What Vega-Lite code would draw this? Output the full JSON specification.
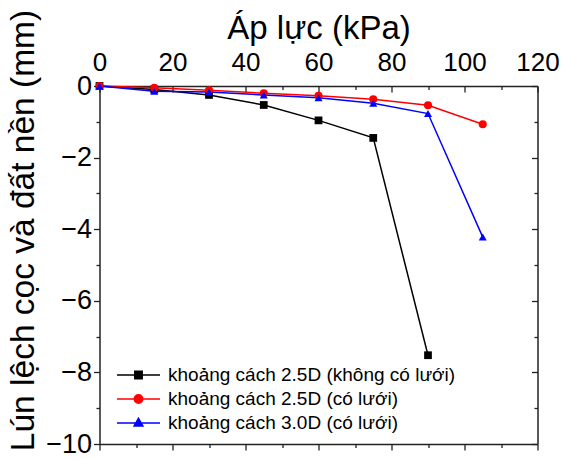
{
  "$schema": "https://vega.github.io/schema/vega-lite/v6.json",
  "width": 438,
  "height": 358,
  "autosize": {"type": "none"},
  "padding": {"left": 99.5, "top": 86, "right": 26.5, "bottom": 15},
  "background": "white",
  "config": {
    "font": "Liberation Sans",
    "view": {"stroke": null},
    "axis": {"grid": false, "domainColor": "#222", "domainWidth": 1.5, "tickColor": "#222", "tickWidth": 1.3, "labelColor": "#000", "titleColor": "#000", "labelFont": "Liberation Sans", "titleFont": "Liberation Sans", "titleFontWeight": "normal", "labelFlush": false, "labelOverlap": false}
  },
  "datasets": {
    "d": [
      {"series": "khoảng cách 2.5D (không có lưới)", "x": 0, "y": 0},
      {"series": "khoảng cách 2.5D (không có lưới)", "x": 15, "y": -0.1},
      {"series": "khoảng cách 2.5D (không có lưới)", "x": 30, "y": -0.25},
      {"series": "khoảng cách 2.5D (không có lưới)", "x": 45, "y": -0.53},
      {"series": "khoảng cách 2.5D (không có lưới)", "x": 60, "y": -0.96},
      {"series": "khoảng cách 2.5D (không có lưới)", "x": 75, "y": -1.45},
      {"series": "khoảng cách 2.5D (không có lưới)", "x": 90, "y": -7.52},
      {"series": "khoảng cách 2.5D (có lưới)", "x": 0, "y": 0},
      {"series": "khoảng cách 2.5D (có lưới)", "x": 15, "y": -0.05},
      {"series": "khoảng cách 2.5D (có lưới)", "x": 30, "y": -0.12},
      {"series": "khoảng cách 2.5D (có lưới)", "x": 45, "y": -0.2},
      {"series": "khoảng cách 2.5D (có lưới)", "x": 60, "y": -0.27},
      {"series": "khoảng cách 2.5D (có lưới)", "x": 75, "y": -0.37},
      {"series": "khoảng cách 2.5D (có lưới)", "x": 90, "y": -0.54},
      {"series": "khoảng cách 2.5D (có lưới)", "x": 105, "y": -1.07},
      {"series": "khoảng cách 3.0D (có lưới)", "x": 0, "y": 0},
      {"series": "khoảng cách 3.0D (có lưới)", "x": 15, "y": -0.15},
      {"series": "khoảng cách 3.0D (có lưới)", "x": 30, "y": -0.17},
      {"series": "khoảng cách 3.0D (có lưới)", "x": 45, "y": -0.25},
      {"series": "khoảng cách 3.0D (có lưới)", "x": 60, "y": -0.33},
      {"series": "khoảng cách 3.0D (có lưới)", "x": 75, "y": -0.48},
      {"series": "khoảng cách 3.0D (có lưới)", "x": 90, "y": -0.77},
      {"series": "khoảng cách 3.0D (có lưới)", "x": 105, "y": -4.22}
    ]
  },
  "data": {"name": "d"},
  "resolve": {"axis": {"x": "independent", "y": "independent"}},
  "layer": [
    {
      "mark": {"type": "line", "strokeWidth": 1.5},
      "encoding": {
        "x": {"field": "x", "type": "quantitative", "scale": {"domain": [0, 120], "nice": false},
          "axis": {"orient": "top", "values": [0, 20, 40, 60, 80, 100, 120], "ticks": false, "labelFontSize": 26, "labelPadding": 11, "title": "Áp lực (kPa)", "titleFontSize": 33, "titlePadding": 4}},
        "y": {"field": "y", "type": "quantitative", "scale": {"domain": [-10, 0], "nice": false},
          "axis": {"orient": "left", "values": [0, -2, -4, -6, -8, -10], "ticks": false, "labelFontSize": 27, "labelPadding": 8, "labelExpr": "replace(datum.label, '-', '−')", "title": "Lún lệch cọc và đất nền (mm)", "titleFontSize": 33.5, "titlePadding": 5, "titleY": 144}},
        "color": {"field": "series", "type": "nominal", "scale": {"domain": ["khoảng cách 2.5D (không có lưới)", "khoảng cách 2.5D (có lưới)", "khoảng cách 3.0D (có lưới)"], "range": ["#000000", "#ff0000", "#0000ff"]},
          "legend": {"title": null, "orient": "none", "legendX": 28, "legendY": 278, "labelFontSize": 19, "labelLimit": 500, "labelColor": "#000", "symbolSize": 400, "symbolStrokeWidth": 1.5, "labelOffset": 18.5, "padding": 0, "rowPadding": 3,
            "encode": {"symbols": {"update": {
              "shape": {"signal": "datum.index === 0 ? 'M-2.15,0H2.15M-0.37,-0.37H0.37V0.37H-0.37Z' : datum.index === 1 ? 'M-2.15,0H2.15M0.42,0A0.42,0.42,0,1,1,-0.42,0A0.42,0.42,0,1,1,0.42,0Z' : 'M-2.15,0H2.15M0,-0.47L0.44,0.3H-0.44Z'"},
              "fill": {"scale": "color", "field": "value"},
              "stroke": {"scale": "color", "field": "value"},
              "strokeWidth": {"value": 1.5},
              "size": {"value": 400},
              "opacity": {"value": 1}
            }}}}}
      }
    },
    {
      "transform": [{"filter": "datum.series === 'khoảng cách 2.5D (không có lưới)'"}],
      "mark": {"type": "point", "shape": "square", "filled": true, "color": "#000000", "opacity": 1, "size": 60},
      "encoding": {
        "x": {"field": "x", "type": "quantitative", "axis": null},
        "y": {"field": "y", "type": "quantitative", "axis": null}
      }
    },
    {
      "transform": [{"filter": "datum.series === 'khoảng cách 2.5D (có lưới)'"}],
      "mark": {"type": "point", "shape": "circle", "filled": true, "color": "#ff0000", "opacity": 1, "size": 65},
      "encoding": {
        "x": {"field": "x", "type": "quantitative", "axis": null},
        "y": {"field": "y", "type": "quantitative", "axis": null}
      }
    },
    {
      "transform": [{"filter": "datum.series === 'khoảng cách 3.0D (có lưới)'"}],
      "mark": {"type": "point", "shape": "triangle-up", "filled": true, "color": "#0000ff", "opacity": 1, "size": 65},
      "encoding": {
        "x": {"field": "x", "type": "quantitative", "axis": null},
        "y": {"field": "y", "type": "quantitative", "axis": null}
      }
    },
    {
      "mark": {"type": "point", "opacity": 0},
      "encoding": {
        "x": {"field": "x", "type": "quantitative", "scale": {"domain": [0, 120], "nice": false},
          "axis": {"orient": "top", "values": [0, 20, 40, 60, 80, 100, 120], "labels": false, "domain": false, "tickSize": -6, "title": null}},
        "y": {"field": "y", "type": "quantitative", "scale": {"domain": [-10, 0], "nice": false},
          "axis": {"orient": "left", "values": [0, -2, -4, -6, -8, -10], "labels": false, "domain": false, "tickSize": 6, "title": null}}
      }
    },
    {
      "mark": {"type": "point", "opacity": 0},
      "encoding": {
        "x": {"field": "x", "type": "quantitative", "scale": {"domain": [0, 120], "nice": false},
          "axis": {"orient": "top", "values": [10, 30, 50, 70, 90, 110], "labels": false, "domain": false, "tickSize": -3.5, "title": null}},
        "y": {"field": "y", "type": "quantitative", "scale": {"domain": [-10, 0], "nice": false},
          "axis": {"orient": "left", "values": [-1, -3, -5, -7, -9], "labels": false, "domain": false, "tickSize": 3.5, "title": null}}
      }
    },
    {
      "mark": {"type": "point", "opacity": 0},
      "encoding": {
        "x": {"field": "x", "type": "quantitative", "scale": {"domain": [0, 120], "nice": false},
          "axis": {"orient": "bottom", "values": [0, 20, 40, 60, 80, 100, 120], "labels": false, "domain": true, "tickSize": 6, "title": null}},
        "y": {"field": "y", "type": "quantitative", "scale": {"domain": [-10, 0], "nice": false},
          "axis": {"orient": "right", "values": [0, -2, -4, -6, -8, -10], "labels": false, "domain": true, "tickSize": -6, "title": null}}
      }
    },
    {
      "mark": {"type": "point", "opacity": 0},
      "encoding": {
        "x": {"field": "x", "type": "quantitative", "scale": {"domain": [0, 120], "nice": false},
          "axis": {"orient": "bottom", "values": [10, 30, 50, 70, 90, 110], "labels": false, "domain": false, "tickSize": 3.5, "title": null}},
        "y": {"field": "y", "type": "quantitative", "scale": {"domain": [-10, 0], "nice": false},
          "axis": {"orient": "right", "values": [-1, -3, -5, -7, -9], "labels": false, "domain": false, "tickSize": -3.5, "title": null}}
      }
    }
  ]
}
